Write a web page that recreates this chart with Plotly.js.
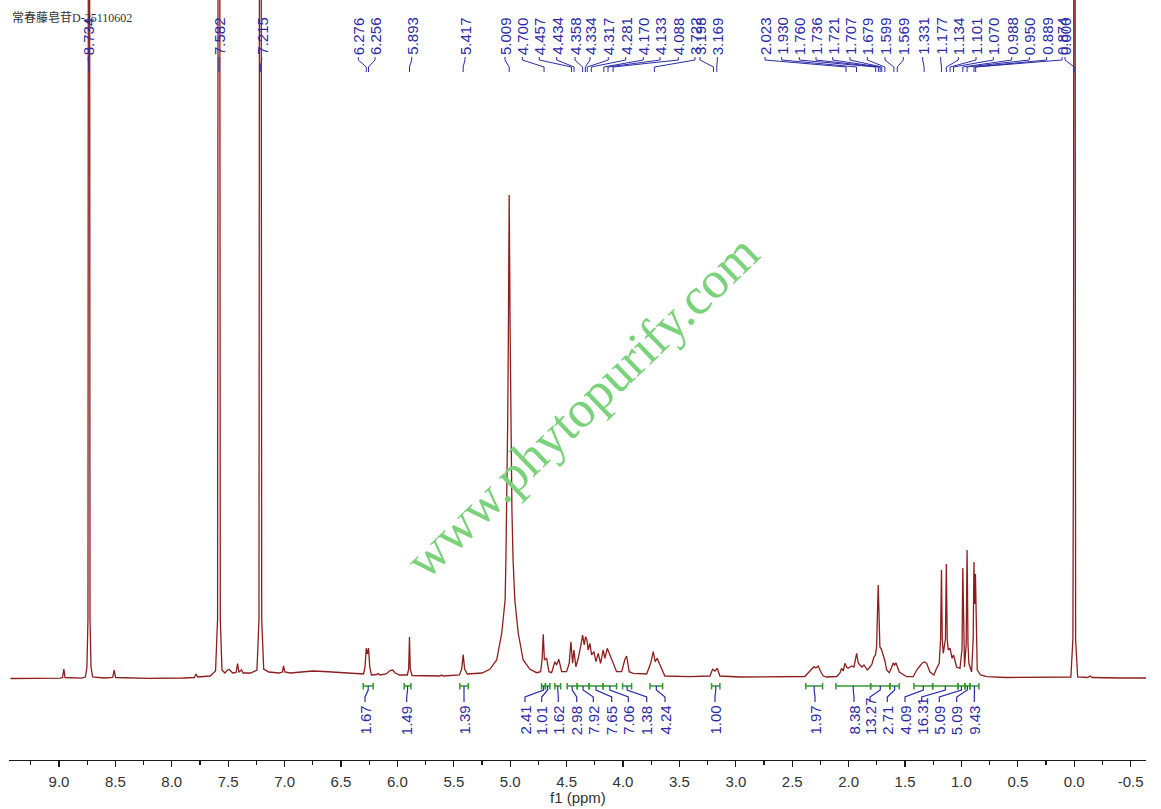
<!DOCTYPE html>
<html>
<head>
<meta charset="utf-8">
<script src="https://cdn.plot.ly/plotly-3.0.1.min.js"></script>
<style>
  html, body { margin: 0; padding: 0; background: #fff; }
  #nmr { width: 1161px; height: 809px; }
</style>
</head>
<body>
<div id="nmr"></div>
<script>
// sample name, top left corner
const sampleName = '常春藤皂苷D-25110602';

// spectrum: chemical shift (ppm) and height above baseline
const specPpm = [
    9.430, 9.100, 8.985, 8.968, 8.957, 8.946, 8.800, 8.766, 8.752, 8.743, 8.734, 8.725, 8.716, 8.702,
    8.600, 8.524, 8.511, 8.498, 8.200, 7.900, 7.800, 7.785, 7.770, 7.660, 7.612, 7.594, 7.582, 7.570,
    7.555, 7.530, 7.505, 7.490, 7.460, 7.430, 7.417, 7.405, 7.381, 7.368, 7.300, 7.245, 7.227, 7.215,
    7.203, 7.185, 7.140, 7.050, 7.020, 7.009, 6.998, 6.950, 6.850, 6.750, 6.650, 6.500, 6.350, 6.300,
    6.287, 6.276, 6.266, 6.256, 6.245, 6.230, 6.185, 6.170, 6.155, 6.100, 6.065, 6.043, 6.020, 5.980,
    5.912, 5.900, 5.893, 5.886, 5.870, 5.700, 5.622, 5.608, 5.594, 5.450, 5.430, 5.417, 5.404, 5.380,
    5.250, 5.180, 5.120, 5.075, 5.045, 5.038, 5.030, 5.022, 5.016, 5.009, 5.001, 4.994, 4.985, 4.975,
    4.959, 4.929, 4.885, 4.825,
    4.766, 4.730, 4.717, 4.707, 4.697, 4.677, 4.657, 4.633, 4.604, 4.589, 4.569, 4.544, 4.500, 4.477,
    4.462, 4.447, 4.435, 4.418, 4.397, 4.376, 4.358, 4.344, 4.332, 4.320, 4.309, 4.294, 4.278, 4.258,
    4.240, 4.220, 4.199, 4.176, 4.161, 4.140, 4.122, 4.101, 4.081, 4.057, 4.012, 3.983, 3.968, 3.945,
    3.910, 3.791, 3.755, 3.732, 3.715, 3.697, 3.679, 3.658, 3.629, 3.407, 3.230, 3.206, 3.185, 3.165,
    3.141, 2.964, 2.700, 2.389, 2.343, 2.307, 2.290, 2.270, 2.246, 2.225, 2.195, 2.106, 2.077, 2.062,
    2.048, 2.033, 2.018, 2.004, 1.973, 1.953, 1.929, 1.915, 1.900, 1.882, 1.864, 1.835, 1.811, 1.793,
    1.776, 1.762, 1.752, 1.744, 1.738, 1.732, 1.723, 1.710, 1.693, 1.678, 1.663, 1.640, 1.621, 1.605,
    1.592, 1.581, 1.551, 1.516, 1.486, 1.427, 1.397, 1.368, 1.344, 1.328, 1.309, 1.279, 1.244, 1.220,
    1.197, 1.185, 1.177, 1.170, 1.161, 1.142, 1.134, 1.126, 1.117, 1.101, 1.083, 1.070, 1.043, 1.013,
    0.995, 0.988, 0.981, 0.973, 0.958, 0.950, 0.942, 0.934, 0.910, 0.896, 0.889, 0.882, 0.876, 0.868,
    0.860, 0.830, 0.777, 0.600, 0.300, 0.100, 0.030, 0.012, 0.006, 0.000, -0.006, -0.012, -0.030,
    -0.120, -0.140, -0.160, -0.400, -0.636
];
const specInt = [
    0.5, 0.5, 0.8, 1.5, 10, 1.5, 0.8, 2, 12, 60, 2000, 60, 12, 2,
    1, 1.5, 9, 1.5, 0.6, 1, 1.5, 5, 2, 3, 8, 60, 2000, 60,
    9, 6, 9, 9.5, 6, 6.5, 15.5, 7, 9, 6, 6, 9, 60, 2000,
    60, 10, 7, 6, 7, 13, 7, 6, 7, 8, 7.5, 6.5, 5, 5,
    12, 31, 25, 31, 12, 4, 4.5, 5.5, 4, 5, 8.5, 9, 6, 4,
    4, 10, 42, 10, 3.5, 3, 3, 4, 3, 4, 10, 24.5, 10, 5,
    6, 9.7, 19, 46, 79, 120, 170, 260, 350, 484, 350, 260, 170, 120,
    79, 46, 19, 9.7,
    6.3, 7.3, 20, 44.7, 19, 20.7, 7.3, 6.3, 17.3, 14, 19.7, 7.3, 7.3, 15.7,
    37.3, 15.7, 29, 12.3, 20.7, 32.3, 44, 34, 42.3, 39, 29, 35.7, 24, 27.3,
    17.3, 25.7, 15.7, 29, 20.7, 30.7, 25.7, 20.7, 15.7, 7.3, 7.3, 19.7, 23, 7.3,
    5.7, 5, 15.7, 27.3, 17.3, 20.7, 15.7, 10.7, 3, 2.3, 3, 9.7, 8, 10.7,
    3, 2, 2, 2.5, 8, 12.3, 11, 13, 7, 3, 2, 2.5, 6, 10.7,
    8, 15.7, 12, 10.7, 13, 12, 25.7, 16, 14, 12, 14, 9, 12, 15,
    22, 24, 32, 60, 94, 70, 32, 30, 24, 18, 9, 6.3, 11, 16,
    14, 16.3, 7, 4, 2.3, 2.3, 9, 13, 16.3, 17, 15.7, 7, 4, 10.7,
    15.7, 40, 109, 40, 25.7, 40, 115, 40, 29, 30.7, 20.7, 24, 12, 10.7,
    30, 111, 30, 12, 35, 129, 35, 15.7, 7, 40, 117, 75, 105, 35,
    9, 4, 2.3, 1.5, 1.5, 1.5, 2, 40, 300, 2000, 300, 40, 2,
    1.5, 3, 1.5, 1, 1
];

// picked peak labels
const peakLabels = [
    '8.734', '7.582', '7.215', '6.276', '6.256', '5.893', '5.417',
    '5.009', '4.700', '4.457', '4.434', '4.358', '4.334', '4.317', '4.281', '4.170', '4.133', '4.088',
    '3.722', '3.198', '3.169',
    '2.023', '1.930', '1.760', '1.736', '1.721', '1.707', '1.679', '1.599', '1.569', '1.331',
    '1.177', '1.134', '1.101', '1.070', '0.988', '0.950', '0.889', '0.874', '0.000'
];

// integral regions (ppm) and their values
const integralFrom = [6.303, 5.940, 5.447, 4.722, 4.688, 4.604, 4.495, 4.406, 4.302, 4.176, 4.004,
    3.761, 3.215, 2.380, 2.113, 1.805, 1.634, 1.421, 1.255, 1.031, 0.969, 0.925];
const integralTo = [6.215, 5.880, 5.372, 4.688, 4.648, 4.553, 4.406, 4.302, 4.176, 4.057, 3.924,
    3.649, 3.141, 2.231, 1.805, 1.634, 1.551, 1.255, 1.031, 0.969, 0.925, 0.845];
const integralValues = ['1.67', '1.49', '1.39', '2.41', '1.01', '1.62', '2.98', '7.92', '7.65', '7.06',
    '1.38', '4.24', '1.00', '1.97', '8.38', '13.27', '2.71', '4.09', '16.31', '5.09', '5.09', '9.43'];

// x axis tick labels
const tickLabels = ['9.0', '8.5', '8.0', '7.5', '7.0', '6.5', '6.0', '5.5', '5.0', '4.5',
    '4.0', '3.5', '3.0', '2.5', '2.0', '1.5', '1.0', '0.5', '0.0', '-0.5'];

// ---- layout ----
const plotLeft = 9, plotRight = 1146, plotBottom = 760;
const xRange = [9.443, -0.636];
const yRange = [-81, 679];

const pxToPpm = px => xRange[0] + (px - plotLeft) / (plotRight - plotLeft) * (xRange[1] - xRange[0]);
const pyToPaper = py => (plotBottom - py) / plotBottom;

// label columns (pixels) as the peak picker spread them
const peakLabelX = [88.3, 219, 261.7, 358.3, 375, 411.7, 465,
    505, 522.3, 539.3, 556.7, 575, 590, 608.3, 625.7, 643.3, 660, 678.3, 695, 700, 717.3,
    765, 781.7, 799.3, 816, 832.7, 850, 867.3, 885, 903.3, 922.7, 940.7, 958.3, 976, 993.3,
    1011.7, 1029.3, 1046.7, 1062, 1065];
const integralLabelX = [365, 406.7, 464, 525, 541.7, 558.3, 576.7, 593.3, 611.7, 628.3, 646.7,
    665, 715, 815, 854, 870, 887.3, 905, 921.7, 939.3, 956.7, 974.3];

const peakBlue = '#2b2ba8';
const integralGreen = '#2f9a2f';
const labelFont = { family: 'Liberation Sans, Arial, sans-serif', size: 15, color: peakBlue };
const axisFont = { family: 'Liberation Sans, Arial, sans-serif', size: 15, color: '#333' };

const shapes = [];
const annotations = [];

peakLabels.forEach((lab, i) => {
    const lx = pxToPpm(peakLabelX[i]);
    const p = parseFloat(lab);
    shapes.push({
        type: 'path', xref: 'x', yref: 'paper',
        path: `M ${lx},${pyToPaper(57)} L ${lx},${pyToPaper(60)} L ${p},${pyToPaper(67)} L ${p},${pyToPaper(72)}`,
        line: { color: peakBlue, width: 1 }
    });
    annotations.push({
        text: lab, xref: 'x', yref: 'paper', x: lx, y: pyToPaper(56),
        textangle: -90, xanchor: 'center', yanchor: 'bottom', showarrow: false,
        font: labelFont, borderpad: 0
    });
});

integralValues.forEach((val, i) => {
    const a = integralFrom[i], b = integralTo[i];
    const mid = (a + b) / 2;
    const lx = pxToPpm(integralLabelX[i]);
    const y1 = pyToPaper(683), y2 = pyToPaper(689.5), ym = pyToPaper(686);
    shapes.push({
        type: 'path', xref: 'x', yref: 'paper',
        path: `M ${a},${y1} L ${a},${y2} M ${a},${ym} L ${b},${ym} M ${b},${y1} L ${b},${y2}`,
        line: { color: integralGreen, width: 1.5 }
    });
    shapes.push({
        type: 'path', xref: 'x', yref: 'paper',
        path: `M ${mid},${ym} L ${mid},${pyToPaper(690)} L ${lx},${pyToPaper(697)} L ${lx},${pyToPaper(702)}`,
        line: { color: peakBlue, width: 1.2 }
    });
    annotations.push({
        text: val, xref: 'x', yref: 'paper', x: lx, y: pyToPaper(736),
        textangle: -90, xanchor: 'center', yanchor: 'bottom', showarrow: false,
        font: labelFont, borderpad: 0
    });
});

annotations.push({
    text: sampleName, xref: 'paper', yref: 'paper', x: 0.001, y: pyToPaper(18),
    xanchor: 'left', yanchor: 'middle', showarrow: false,
    font: { family: 'Liberation Serif, Noto Sans CJK SC, serif', size: 12, color: '#333' }
});

// axis title placed by hand so it sits tight under the tick labels
annotations.push({
    text: 'f1 (ppm)', xref: 'paper', yref: 'paper', x: 0.5, y: pyToPaper(797),
    xanchor: 'center', yanchor: 'middle', showarrow: false, font: axisFont
});

annotations.push({
    text: 'www.phytopurify.com', xref: 'paper', yref: 'paper',
    x: (582 - plotLeft) / (plotRight - plotLeft), y: pyToPaper(407),
    xanchor: 'center', yanchor: 'middle', textangle: -44, showarrow: false,
    font: { family: 'Liberation Serif, Times New Roman, serif', size: 52, color: 'rgb(122,210,122)' }
});

const trace = {
    x: specPpm,
    y: specInt,
    type: 'scatter',
    mode: 'lines',
    line: { color: '#8e1d1d', width: 1.3 },
    hoverinfo: 'skip'
};

const layout = {
    width: 1161,
    height: 809,
    paper_bgcolor: '#fff',
    plot_bgcolor: '#fff',
    margin: { l: plotLeft, r: 1161 - plotRight, t: 0, b: 809 - plotBottom, autoexpand: false },
    showlegend: false,
    xaxis: {
        range: xRange,
        autorange: false,
        showgrid: false,
        zeroline: false,
        showline: true,
        linecolor: '#1a1a1a',
        linewidth: 1.3,
        ticks: 'outside',
        ticklen: 6,
        tickwidth: 1.3,
        tickcolor: '#1a1a1a',
        tickmode: 'array',
        tickvals: tickLabels.map(parseFloat),
        ticktext: tickLabels,
        ticklabelstandoff: 2,
        tickfont: axisFont,
        minor: { tickmode: 'linear', tick0: 0, dtick: 0.25, ticks: 'outside', ticklen: 4, tickwidth: 1.3, tickcolor: '#1a1a1a' },
        automargin: false
    },
    yaxis: {
        range: yRange,
        autorange: false,
        visible: false,
        showgrid: false,
        zeroline: false
    },
    shapes: shapes,
    annotations: annotations
};

Plotly.newPlot('nmr', [trace], layout, { staticPlot: true, displayModeBar: false });
</script>
</body>
</html>
